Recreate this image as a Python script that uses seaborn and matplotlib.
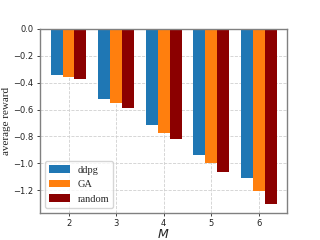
import matplotlib
matplotlib.use("Agg")
import matplotlib.pyplot as plt
import seaborn as sns
import pandas as pd

M_values = [2, 3, 4, 5, 6]
ddpg = [-0.340, -0.520, -0.717, -0.937, -1.106]
ga = [-0.360, -0.548, -0.771, -1.000, -1.205]
random_ = [-0.372, -0.585, -0.821, -1.064, -1.304]
methods = ["ddpg", "GA", "random"]
colors = ["#1f77b4", "#ff7f0e", "#8b0000"]

rows = []
for name, vals in zip(methods, [ddpg, ga, random_]):
    for m, v in zip(M_values, vals):
        rows.append({"M": str(m), "reward": v, "method": name})
df = pd.DataFrame(rows)

sns.set_style("white")
fig, ax = plt.subplots(figsize=(3.2, 2.4), dpi=100)
sns.barplot(data=df, x="M", y="reward", hue="method", palette=colors,
            hue_order=methods, width=0.75, gap=0, ax=ax, errorbar=None,
            saturation=1, edgecolor="none")
ax.set_ylim(-1.37, 0)
ax.set_xlim(-0.6, 4.6)
ax.grid(True, linestyle="--", color="#d0d0d0", linewidth=0.6)
ax.set_axisbelow(True)
for s in ax.spines.values():
    s.set_color("#808080")
    s.set_linewidth(1.0)
ax.tick_params(axis="both", labelsize=6, length=2.5, width=0.6, pad=2,
               colors="#222222", bottom=True, left=True)
ax.set_yticks([0.0, -0.2, -0.4, -0.6, -0.8, -1.0, -1.2])
ax.set_ylabel("average reward", family="Liberation Serif", fontsize=8, labelpad=2)
ax.set_xlabel("$M$", fontsize=9, labelpad=0)
leg = ax.legend(loc="lower left", prop={"family": "Liberation Serif", "size": 7.5},
                frameon=True, handlelength=2.0, handletextpad=0.7,
                borderaxespad=0.5)
plt.subplots_adjust(left=0.125, right=0.898, top=0.88, bottom=0.112)
fig.savefig("out.png", dpi=100)
